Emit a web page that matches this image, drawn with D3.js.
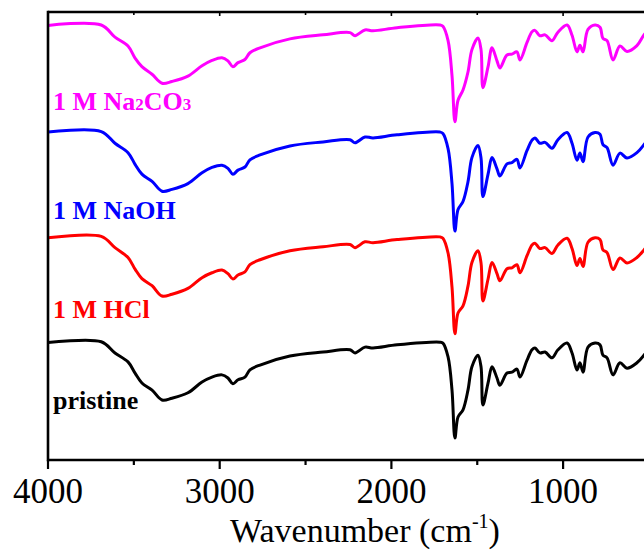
<!DOCTYPE html>
<html>
<head>
<meta charset="utf-8">
<script src="https://cdn.jsdelivr.net/npm/d3@7/dist/d3.min.js"></script>
<style>
  html, body { margin: 0; padding: 0; background: #fff; }
  svg { display: block; }
</style>
</head>
<body>
<svg id="chart" width="644" height="552"></svg>
<script>
// FTIR spectra (transmittance, a.u.) of the film before and after soaking
const wavenumbers = [4000, 3690, 3610, 3534, 3493, 3453, 3394, 3336, 3278, 3185, 3103, 3045, 2987, 2952, 2923, 2893, 2853, 2824, 2765, 2591, 2398, 2241, 2212, 2154, 2107, 1967, 1717, 1700, 1670, 1647, 1630, 1612, 1583, 1554, 1531, 1496, 1478, 1467, 1437, 1414, 1385, 1368, 1327, 1298, 1269, 1251, 1210, 1181, 1164, 1135, 1105, 1065, 1030, 977, 948, 919, 902, 884, 855, 814, 785, 768, 744, 709, 669, 628, 570, 529, 480];

const pristine = [26.2, 26.4, 23.9, 21.9, 19.4, 17.2, 15.6, 13.4, 13.8, 15.0, 17.4, 18.5, 19.0, 18.3, 17.0, 17.9, 18.5, 20.1, 21.2, 23.2, 24.1, 24.6, 23.9, 25.2, 25.0, 25.7, 26.3, 26.1, 23.0, 15.6, 4.9, 9.6, 11.2, 15.6, 20.8, 23.4, 20.8, 12.3, 17.2, 20.8, 18.3, 16.7, 19.4, 19.6, 20.3, 18.5, 22.3, 24.6, 25.0, 23.9, 24.1, 22.8, 24.6, 26.1, 23.9, 20.1, 21.7, 19.6, 25.2, 26.1, 25.7, 23.4, 22.8, 19.0, 21.7, 20.5, 21.7, 23.4, 26.0];

const hcl = [26.2, 26.5, 24.0, 21.8, 19.2, 17.1, 15.5, 13.2, 13.6, 14.9, 17.3, 18.4, 19.0, 18.2, 17.0, 17.9, 18.6, 20.2, 21.3, 23.3, 24.2, 24.7, 24.0, 25.3, 25.1, 25.8, 26.4, 26.1, 22.8, 15.2, 4.8, 9.4, 11.0, 15.4, 20.7, 23.3, 20.6, 12.1, 17.0, 20.7, 18.2, 16.6, 19.3, 19.5, 20.2, 18.4, 22.2, 24.6, 25.0, 23.8, 24.0, 22.7, 24.6, 26.1, 23.8, 20.0, 21.6, 19.8, 25.2, 26.2, 25.8, 23.5, 22.9, 19.1, 21.7, 20.6, 21.8, 23.5, 26.0];

const naoh = [26.3, 26.4, 23.8, 21.7, 19.1, 16.9, 15.3, 13.1, 13.5, 14.8, 17.2, 18.4, 18.9, 18.2, 16.9, 17.8, 18.5, 20.1, 21.2, 23.2, 24.1, 24.6, 23.9, 25.2, 25.0, 25.7, 26.3, 26.0, 22.6, 14.8, 4.2, 9.0, 10.8, 15.2, 20.6, 23.3, 20.5, 11.9, 16.9, 20.6, 18.1, 16.5, 19.2, 19.5, 20.2, 18.3, 22.2, 24.5, 25.0, 23.8, 24.0, 22.7, 24.6, 26.2, 23.8, 20.0, 21.6, 19.7, 25.2, 26.2, 25.8, 23.5, 22.8, 18.9, 21.6, 20.5, 21.7, 23.5, 26.0];

const na2co3 = [26.2, 26.3, 23.6, 21.6, 18.9, 17.0, 15.3, 13.3, 13.7, 14.9, 17.2, 18.4, 19.0, 18.3, 17.0, 17.9, 18.6, 20.1, 21.2, 23.2, 24.1, 24.6, 23.9, 25.2, 25.0, 25.7, 26.3, 26.0, 22.8, 15.0, 4.7, 9.5, 11.8, 15.8, 20.8, 23.4, 20.8, 12.3, 17.0, 21.2, 18.3, 16.7, 19.6, 19.8, 20.3, 18.5, 22.4, 24.8, 25.1, 23.9, 24.1, 22.8, 24.7, 26.3, 24.0, 20.3, 21.8, 20.3, 25.3, 26.3, 25.8, 23.3, 22.8, 18.5, 21.6, 20.4, 21.7, 24.1, 26.2];

// Vertical stacking offsets (a.u.) for each spectrum
const seriesNames = ["pristine", "1 M HCl", "1 M NaOH", "1 M Na2CO3"];
const seriesValues = [pristine, hcl, naoh, na2co3];
const offsets = [0, 23.4, 46.9, 70.8];
const colors = ["#000000", "#ff0000", "#0000ff", "#ff00ff"];

const xMajorTicks = [4000, 3000, 2000, 1000];
const xMinorTicks = [3500, 2500, 1500, 500];

const svg = d3.select("#chart");
const plotLeft = 48, plotTop = 12, plotBottom = 460, plotRight = 644;

const x = d3.scaleLinear().domain([4000, 400]).range([plotLeft, plotLeft + 3600 * 0.1717]);
const y = d3.scaleLinear().domain([0, 100]).range([plotBottom, plotTop]);

const serif = "'Liberation Serif', 'Times New Roman', serif";

// spectra
const line = d3.line()
  .x(d => x(d[0]))
  .y(d => y(d[1]))
  .curve(d3.curveCatmullRom.alpha(0.5));

svg.append("defs").append("clipPath").attr("id", "plotClip")
  .append("rect").attr("x", plotLeft).attr("y", plotTop)
  .attr("width", plotRight - plotLeft).attr("height", plotBottom - plotTop);

const plot = svg.append("g").attr("clip-path", "url(#plotClip)");
seriesValues.forEach((vals, i) => {
  const pts = wavenumbers.map((w, j) => [w, vals[j] + offsets[i]]);
  plot.append("path")
    .attr("d", line(pts))
    .attr("fill", "none")
    .attr("stroke", colors[i])
    .attr("stroke-width", 3)
    .attr("stroke-linejoin", "round")
    .attr("stroke-linecap", "round");
});

// axes frame
const axisG = svg.append("g");
axisG.append("line").attr("x1", plotLeft).attr("x2", plotRight).attr("y1", plotBottom).attr("y2", plotBottom)
  .attr("stroke", "#000").attr("stroke-width", 2.6);
axisG.append("line").attr("x1", plotLeft).attr("x2", plotRight).attr("y1", plotTop).attr("y2", plotTop)
  .attr("stroke", "#000").attr("stroke-width", 2.6);
axisG.append("line").attr("x1", plotLeft).attr("x2", plotLeft).attr("y1", plotTop - 1.3).attr("y2", plotBottom + 1.3)
  .attr("stroke", "#000").attr("stroke-width", 2.6);

// bottom ticks (outward) and top ticks (inward)
xMajorTicks.forEach(t => {
  axisG.append("line").attr("x1", x(t)).attr("x2", x(t)).attr("y1", plotBottom).attr("y2", plotBottom + 9)
    .attr("stroke", "#000").attr("stroke-width", 2.2);
  axisG.append("line").attr("x1", x(t)).attr("x2", x(t)).attr("y1", plotTop).attr("y2", plotTop + 4)
    .attr("stroke", "#000").attr("stroke-width", 1.6);
});
xMinorTicks.forEach(t => {
  axisG.append("line").attr("x1", x(t)).attr("x2", x(t)).attr("y1", plotBottom).attr("y2", plotBottom + 5)
    .attr("stroke", "#000").attr("stroke-width", 2.2);
  axisG.append("line").attr("x1", x(t)).attr("x2", x(t)).attr("y1", plotTop).attr("y2", plotTop + 3)
    .attr("stroke", "#000").attr("stroke-width", 1.6);
});

axisG.selectAll("text.tick")
  .data(xMajorTicks)
  .join("text")
  .attr("class", "tick")
  .attr("x", d => x(d))
  .attr("y", 503)
  .attr("text-anchor", "middle")
  .attr("font-family", serif)
  .attr("font-size", 35)
  .text(d => d);

// axis title
const title = svg.append("text")
  .attr("x", 365).attr("y", 542)
  .attr("text-anchor", "middle")
  .attr("font-family", serif)
  .attr("font-size", 34);
title.append("tspan").text("Wavenumber (cm");
title.append("tspan").attr("font-size", 20).attr("dy", -14).text("-1");
title.append("tspan").attr("dy", 14).text(")");

// series labels
const labelY = [409, 318, 219, 110];
const lab = svg.append("g")
  .attr("font-family", serif)
  .attr("font-weight", "bold")
  .attr("font-size", 26);

lab.append("text").attr("x", 53).attr("y", labelY[0]).attr("fill", colors[0]).text(seriesNames[0]);
lab.append("text").attr("x", 53).attr("y", labelY[1]).attr("fill", colors[1]).text(seriesNames[1]);
lab.append("text").attr("x", 53).attr("y", labelY[2]).attr("fill", colors[2]).text(seriesNames[2]);
const carb = lab.append("text").attr("x", 53).attr("y", labelY[3]).attr("fill", colors[3]);
carb.append("tspan").text("1 M Na");
carb.append("tspan").attr("font-size", 17).text("2");
carb.append("tspan").text("CO");
carb.append("tspan").attr("font-size", 17).text("3");
</script>
</body>
</html>
